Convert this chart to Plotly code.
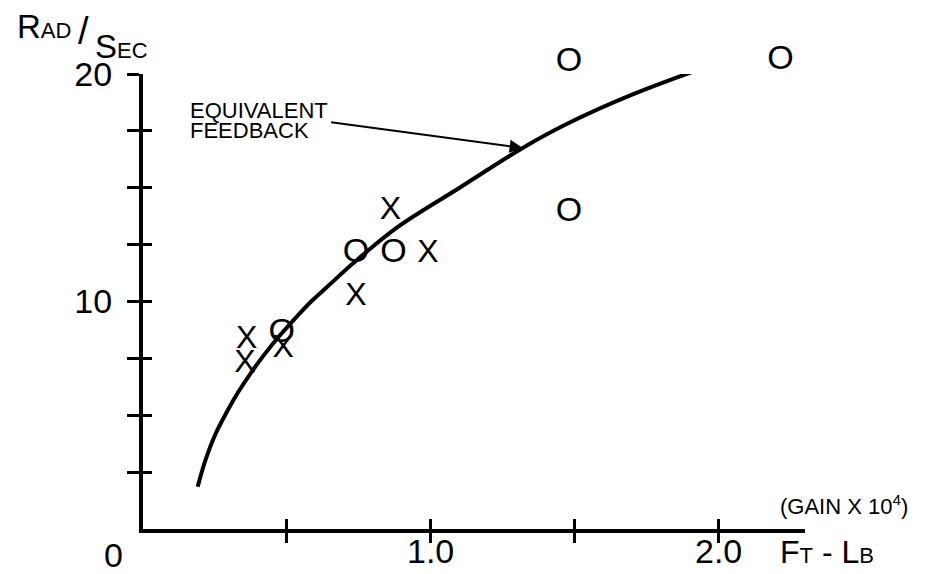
import plotly.graph_objects as go

# Equivalent-feedback curve (gain x 10^4 in ft-lb vs. rad/sec)
curve_gain = [0.190, 0.215, 0.250, 0.291, 0.331, 0.377, 0.424, 0.470, 0.528,
              0.586, 0.643, 0.729, 0.882, 1.100, 1.319, 1.472, 1.701, 1.917]
curve_rate = [1.86, 2.95, 4.12, 5.14, 6.02, 6.90, 7.71, 8.43, 9.25,
              10.02, 10.68, 11.67, 13.25, 15.00, 16.75, 17.80, 19.10, 20.13]

# Measured points, "O" series
o_gain = [0.482, 0.74, 0.87, 1.48, 1.48, 2.215]
o_rate = [8.58, 12.1, 12.1, 13.9, 20.5, 20.6]

# Measured points, "X" series
x_gain = [0.354, 0.36, 0.487, 0.74, 0.86, 0.99]
x_rate = [7.27, 8.29, 7.93, 10.2, 14.0, 12.1]

x_ticks = [0.5, 1.0, 1.5, 2.0]
x_ticktext = ["", "1.0", "", "2.0"]
y_ticks = [2.5, 5, 7.5, 10, 12.5, 15, 17.5, 20]
y_ticktext = ["", "", "", "10", "", "", "", "20"]

FONT = "Liberation Sans"
X_RANGE = [0, 2.3]
Y_RANGE = [0, 20]

# plot area: 143..805 px across, 40..529 px down; the drawn y axis stops at 20
W, H = 926, 574
M = dict(l=143, r=121, t=40, b=45)
AREA_H = H - M["t"] - M["b"]
Y_TOP_FRAC = 455 / AREA_H                  # fraction of the area used by 0..20
Y_FULL = [0, Y_RANGE[1] / Y_TOP_FRAC]      # same scale over the whole area

fig = go.Figure()

fig.add_trace(go.Scatter(
    x=curve_gain, y=curve_rate, mode="lines",
    line=dict(color="black", width=4, shape="spline", smoothing=1.0),
    xaxis="x", yaxis="y",
    cliponaxis=False, hoverinfo="skip", showlegend=False,
))

fig.add_trace(go.Scatter(
    x=x_gain, y=x_rate, mode="text", text=["X"] * len(x_gain),
    textposition="middle center",
    textfont=dict(family=FONT, size=32, color="black"),
    xaxis="x2", yaxis="y2",
    cliponaxis=False, showlegend=False,
))

fig.add_trace(go.Scatter(
    x=o_gain, y=o_rate, mode="text", text=["O"] * len(o_gain),
    textposition="middle center",
    textfont=dict(family=FONT, size=34, color="black"),
    xaxis="x", yaxis="y3",
    cliponaxis=False, showlegend=False,
))

fig.update_layout(
    width=W, height=H,
    margin=M,
    # transparent plot areas so the stacked subplots do not hide each other
    paper_bgcolor="white", plot_bgcolor="rgba(0,0,0,0)",
    font=dict(family=FONT, color="black"),
    xaxis=dict(
        range=X_RANGE, domain=[0, 1], anchor="y", automargin=False,
        showgrid=False, zeroline=False,
        showline=True, linecolor="black", linewidth=4,
        ticks="outside", ticklen=10, tickwidth=2.5, tickcolor="black",
        tickvals=x_ticks, showticklabels=False,
    ),
    yaxis=dict(
        range=Y_RANGE, domain=[0, Y_TOP_FRAC], anchor="x", automargin=False,
        showgrid=False, zeroline=False,
        showline=True, linecolor="black", linewidth=4,
        ticks="outside", ticklen=12, tickwidth=2.5, tickcolor="black",
        tickvals=y_ticks, ticktext=y_ticktext,
        tickfont=dict(family=FONT, size=34, color="black"),
        ticklabelstandoff=8,
    ),
    # second pair of axes supplies the inner half of each crossing tick
    xaxis2=dict(
        range=X_RANGE, overlaying="x", anchor="y2", side="bottom",
        automargin=False, showgrid=False, zeroline=False, showline=False,
        ticks="inside", ticklen=10, tickwidth=2.5, tickcolor="black",
        tickvals=x_ticks, showticklabels=False,
    ),
    yaxis2=dict(
        range=Y_RANGE, overlaying="y", anchor="x2", side="left",
        automargin=False, showgrid=False, zeroline=False, showline=False,
        ticks="inside", ticklen=9, tickwidth=2.5, tickcolor="black",
        tickvals=y_ticks, showticklabels=False,
    ),
    # taller, hidden y axis with the same scale so points above 20 still show
    yaxis3=dict(
        range=Y_FULL, domain=[0, 1], anchor="x", visible=False,
        automargin=False, showgrid=False, zeroline=False,
    ),
)


def px_x(p):
    return (p - M["l"]) / (W - M["l"] - M["r"])


def px_y(p):
    return (H - M["b"] - p) / AREA_H


# x tick labels sit just under the crossing ticks
for val, label in zip(x_ticks, x_ticktext):
    if label:
        fig.add_annotation(text=label, xref="x", yref="paper", x=val, y=px_y(551),
                           xanchor="center", yanchor="middle", showarrow=False,
                           font=dict(size=34))

small = "font-size:22px"
annotations = [
    dict(text="0", x=px_x(113), y=px_y(555), xanchor="center", font=dict(size=34)),
    dict(text=f"F<span style='{small}'>T</span> - L<span style='{small}'>B</span>",
         x=px_x(778), y=px_y(552), xanchor="left", font=dict(size=32)),
    dict(text="(GAIN X 10<sup>4</sup>)", x=px_x(778), y=px_y(505),
         xanchor="left", font=dict(size=22)),
    dict(text=f"R<span style='{small}'>AD</span>", x=px_x(15), y=px_y(26),
         xanchor="left", font=dict(size=33)),
    dict(text="/", x=px_x(83), y=px_y(31), xanchor="center", font=dict(size=38)),
    dict(text=f"S<span style='{small}'>EC</span>", x=px_x(93), y=px_y(46),
         xanchor="left", font=dict(size=33)),
    dict(text="EQUIVALENT", x=px_x(188), y=px_y(110), xanchor="left",
         font=dict(size=22)),
    dict(text="FEEDBACK", x=px_x(188), y=px_y(130), xanchor="left",
         font=dict(size=22)),
]
for a in annotations:
    fig.add_annotation(xref="paper", yref="paper", yanchor="middle",
                       showarrow=False, **a)

# pointer from the label to the curve
fig.add_annotation(text="", xref="x", yref="y", x=1.319, y=16.75, ax=-193, ay=-26,
                   showarrow=True, arrowhead=2, arrowsize=1.3, arrowwidth=2,
                   arrowcolor="black")

fig.write_html("out.html")
